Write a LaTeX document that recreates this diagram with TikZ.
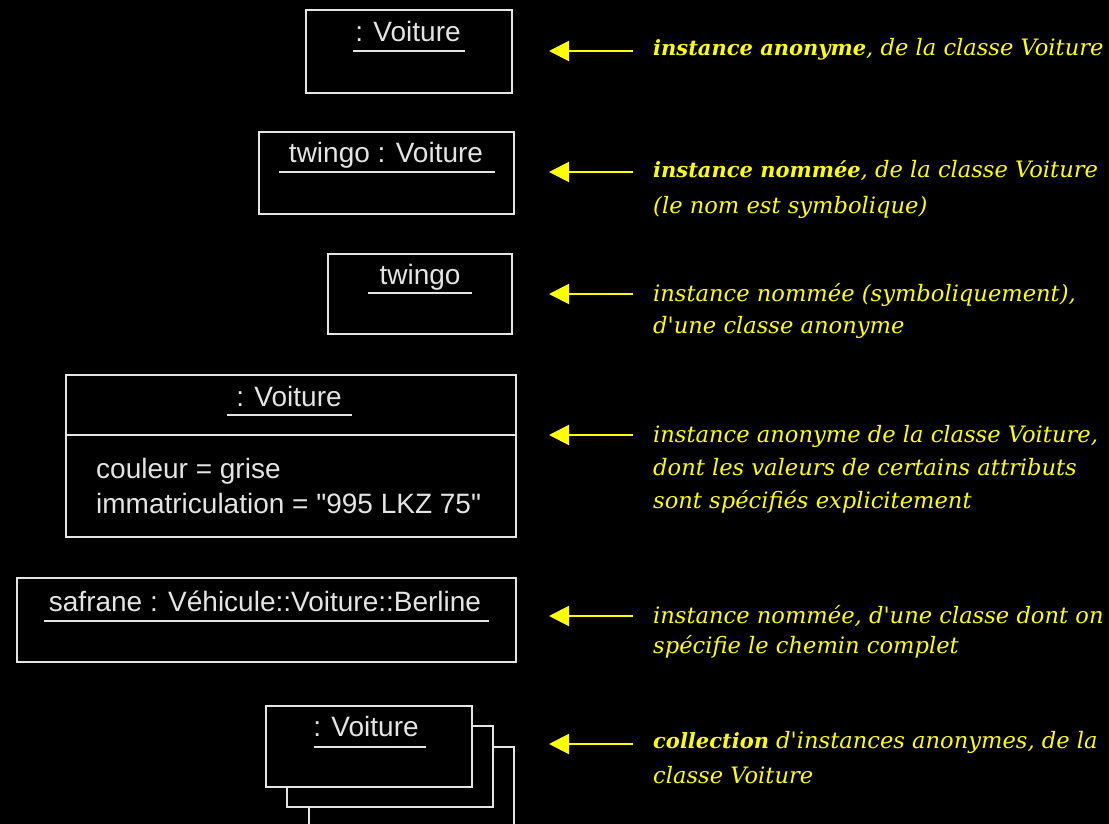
\documentclass[tikz,border=0pt]{standalone}
\usepackage{fontspec}
\setmainfont{DejaVu Serif}
\newfontfamily\boxfont{Liberation Sans}
\newfontfamily\annfont{DejaVu Serif}
\usetikzlibrary{arrows.meta}
\definecolor{uyel}{RGB}{255,255,0}
\definecolor{ugray}{RGB}{228,228,228}
\newcommand{\emphann}[1]{{\fontsize{21}{26}\selectfont\bfseries #1}}
\begin{document}
\begin{tikzpicture}[x=1pt,y=-1pt,
  obj/.style={draw=ugray, line width=1.8pt, fill=black, inner sep=0pt, outer sep=0pt},
  lbl/.style={text=ugray, font=\boxfont\fontsize{28}{32}\selectfont, anchor=base, inner sep=0pt},
  attr/.style={lbl, anchor=base west},
  uline/.style={draw=ugray, line width=1.8pt},
  ann/.style={text=uyel, font=\annfont\itshape\fontsize{22.6}{26}\selectfont, anchor=base west, inner sep=0pt},
  ptr/.style={draw=uyel, line width=2pt, -{Triangle[length=20pt,width=20pt]}},
]
\useasboundingbox[fill=black] (0,0) rectangle (1109,824);

% ---- box 1
\node[obj, minimum width=206pt, minimum height=83pt] (b1) at (409,51.5) {};
\node[lbl] (l1) at (408,42) {: Voiture};
\draw[uline] (353,51) -- (465,51);

% ---- box 2
\node[obj, minimum width=255pt, minimum height=82pt] (b2) at (386.5,173) {};
\node[lbl] (l2) at (386,163) {twingo : Voiture};
\draw[uline] (279,172) -- (495,172);

% ---- box 3
\node[obj, minimum width=184pt, minimum height=80pt] (b3) at (420,294) {};
\node[lbl] (l3) at (420,284) {twingo};
\draw[uline] (368,293) -- (472,293);

% ---- box 4
\node[obj, minimum width=450pt, minimum height=162pt] (b4) at (291,456) {};
\draw[uline] (b4.north west) ++(0,60) -- ++(450,0);
\node[lbl] (l4) at (289,406) {: Voiture};
\draw[uline] (227,415) -- (352,415);
\node[attr] (at1) at (96,478) {couleur = grise};
\node[attr] (at2) at (96,513) {immatriculation = "995 LKZ 75"};

% ---- box 5
\node[obj, minimum width=499pt, minimum height=84pt] (b5) at (266.5,620) {};
\node[lbl] (l5) at (265,611) {safrane : Véhicule::Voiture::Berline};
\draw[uline] (44,621) -- (489,621);

% ---- box 6 (collection)
\node[obj, minimum width=205pt, minimum height=81pt] (b6c) at (411.5,787.5) {};
\node[obj, minimum width=206pt, minimum height=81pt] (b6b) at (390,766.5) {};
\node[obj, minimum width=206pt, minimum height=81pt] (b6a) at (369,746.5) {};
\node[lbl] (l6) at (366,736) {: Voiture};
\draw[uline] (314,747) -- (426,747);

% ---- annotations
\coordinate (s1) at (633,51);  \coordinate (e1) at (549,51);
\draw[ptr] (s1) -- (e1);
\node[ann] (a1) at (653,56) {\emphann{instance anonyme}, de la classe Voiture};

\coordinate (s2) at (633,172); \coordinate (e2) at (549,172);
\draw[ptr] (s2) -- (e2);
\node[ann] (a2) at (653,178) {\emphann{instance nommée}, de la classe Voiture};
\node[ann] (a2b) at (653,213) {(le nom est symbolique)};

\coordinate (s3) at (633,294); \coordinate (e3) at (549,294);
\draw[ptr] (s3) -- (e3);
\node[ann] (a3) at (653,301) {instance nommée (symboliquement),};
\node[ann] (a3b) at (653,333) {d'une classe anonyme};

\coordinate (s4) at (633,435); \coordinate (e4) at (549,435);
\draw[ptr] (s4) -- (e4);
\node[ann] (a4) at (653,442) {instance anonyme de la classe Voiture,};
\node[ann] (a4b) at (653,475) {dont les valeurs de certains attributs};
\node[ann] (a4c) at (653,508) {sont spécifiés explicitement};

\coordinate (s5) at (633,616); \coordinate (e5) at (549,616);
\draw[ptr] (s5) -- (e5);
\node[ann] (a5) at (653,623) {instance nommée, d'une classe dont on};
\node[ann] (a5b) at (653,653) {spécifie le chemin complet};

\coordinate (s6) at (633,744); \coordinate (e6) at (549,744);
\draw[ptr] (s6) -- (e6);
\node[ann] (a6) at (653,748) {\emphann{collection} d'instances anonymes, de la};
\node[ann] (a6b) at (653,783) {classe Voiture};
\end{tikzpicture}
\end{document}
